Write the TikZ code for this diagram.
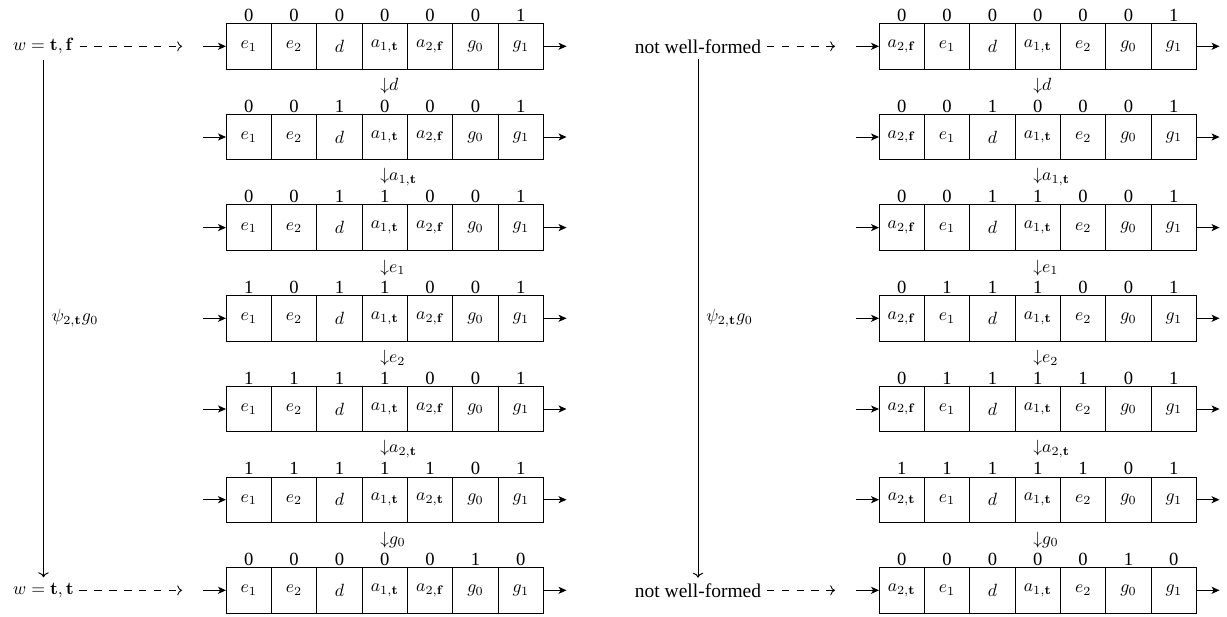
\documentclass[tikz,border=0pt]{standalone}
\usepackage[no-math]{fontspec}
\setmainfont{Liberation Serif}
\usetikzlibrary{arrows.meta,calc}
\tikzset{
  cellbox/.style={draw, line width=0.55pt, minimum width=0.9cm, minimum height=0.9cm, inner sep=0pt, outer sep=0pt},
  bitlbl/.style={inner sep=0pt, font=\fontsize{10.5}{12}\selectfont},
  flow/.style={-{Stealth[length=4.5pt,width=4pt,inset=1.2pt]}, line width=0.55pt},
  dasharrow/.style={->, dash pattern=on 4.2pt off 4.2pt, line width=0.5pt},
  vline/.style={->, line width=0.55pt},
  sidelbl/.style={inner sep=3pt},
  textlbl/.style={inner sep=3pt, font=\fontsize{11}{13}\selectfont},
  steplbl/.style={inner sep=0pt},
  psilbl/.style={inner sep=0pt, anchor=west},
}
\newcommand\stepdown[1]{$\mathord{\downarrow}\rlap{$#1$}$}
% #1 prefix, #2 left x, #3 centre y, #4 cell/bit list
\newcommand\tmrow[4]{%
  \foreach \cc/\bb [count=\kk from 0] in {#4} {
    \node[cellbox] (#1c\kk) at ({#2+45.36*(\kk+0.5)}, #3) {$\cc$};
    \node[bitlbl] (#1b\kk) at ({#2+45.36*(\kk+0.5)}, #3-31) {\bb};
  }
  \coordinate (#1in) at (#2-23, #3);
  \draw[flow] (#1in) -- (#1c0.west);
  \coordinate (#1out) at ({#2+45.36*7+23}, #3);
  \draw[flow] (#1c6.east) -- (#1out);
}
\begin{document}
\begin{tikzpicture}[x=0.019841cm, y=-0.019841cm]
\useasboundingbox (0,0) rectangle (1227,616);

% ---------------- left column ----------------
\tmrow{La}{226}{46.3}{e_1/0,e_2/0,d/0,a_{1,\mathbf{t}}/0,a_{2,\mathbf{f}}/0,g_0/0,g_1/1}
\tmrow{Lb}{226}{137.0}{e_1/0,e_2/0,d/1,a_{1,\mathbf{t}}/0,a_{2,\mathbf{f}}/0,g_0/0,g_1/1}
\tmrow{Lc}{226}{227.6}{e_1/0,e_2/0,d/1,a_{1,\mathbf{t}}/1,a_{2,\mathbf{f}}/0,g_0/0,g_1/1}
\tmrow{Ld}{226}{318.3}{e_1/1,e_2/0,d/1,a_{1,\mathbf{t}}/1,a_{2,\mathbf{f}}/0,g_0/0,g_1/1}
\tmrow{Le}{226}{409.0}{e_1/1,e_2/1,d/1,a_{1,\mathbf{t}}/1,a_{2,\mathbf{f}}/0,g_0/0,g_1/1}
\tmrow{Lf}{226}{499.7}{e_1/1,e_2/1,d/1,a_{1,\mathbf{t}}/1,a_{2,\mathbf{t}}/1,g_0/0,g_1/1}
\tmrow{Lg}{226}{590.3}{e_1/0,e_2/0,d/0,a_{1,\mathbf{t}}/0,a_{2,\mathbf{f}}/0,g_0/1,g_1/0}

\node[steplbl] (Ls1) at (384.8, 86.3) {\stepdown{d}};
\node[steplbl] (Ls2) at (384.8, 177.0) {\stepdown{a_{1,\mathbf{t}}}};
\node[steplbl] (Ls3) at (384.8, 267.6) {\stepdown{e_1}};
\node[steplbl] (Ls4) at (384.8, 358.3) {\stepdown{e_2}};
\node[steplbl] (Ls5) at (384.8, 449.0) {\stepdown{a_{2,\mathbf{t}}}};
\node[steplbl] (Ls6) at (384.8, 539.7) {\stepdown{g_0}};

\node[sidelbl] (Lw1) at (43.5, 46.3) {$w=\mathbf{t},\mathbf{f}$};
\node[sidelbl] (Lw7) at (43.5, 590.3) {$w=\mathbf{t},\mathbf{t}$};
\coordinate (Ld1) at ($(Lain)+(-21,0)$);
\coordinate (Ld7) at ($(Lgin)+(-21,0)$);
\draw[dasharrow] (Lw1.east) -- (Ld1);
\draw[dasharrow] (Lw7.east) -- (Ld7);
\draw[vline] (Lw1) -- (Lw7);
\node[psilbl] (Lpsi) at (51.5, 318.3) {$\psi_{2,\mathbf{t}}g_0$};

% ---------------- right column ----------------
\tmrow{Ra}{879}{46.3}{a_{2,\mathbf{f}}/0,e_1/0,d/0,a_{1,\mathbf{t}}/0,e_2/0,g_0/0,g_1/1}
\tmrow{Rb}{879}{137.0}{a_{2,\mathbf{f}}/0,e_1/0,d/1,a_{1,\mathbf{t}}/0,e_2/0,g_0/0,g_1/1}
\tmrow{Rc}{879}{227.6}{a_{2,\mathbf{f}}/0,e_1/0,d/1,a_{1,\mathbf{t}}/1,e_2/0,g_0/0,g_1/1}
\tmrow{Rd}{879}{318.3}{a_{2,\mathbf{f}}/0,e_1/1,d/1,a_{1,\mathbf{t}}/1,e_2/0,g_0/0,g_1/1}
\tmrow{Re}{879}{409.0}{a_{2,\mathbf{f}}/0,e_1/1,d/1,a_{1,\mathbf{t}}/1,e_2/1,g_0/0,g_1/1}
\tmrow{Rf}{879}{499.7}{a_{2,\mathbf{t}}/1,e_1/1,d/1,a_{1,\mathbf{t}}/1,e_2/1,g_0/0,g_1/1}
\tmrow{Rg}{879}{590.3}{a_{2,\mathbf{t}}/0,e_1/0,d/0,a_{1,\mathbf{t}}/0,e_2/0,g_0/1,g_1/0}

\node[steplbl] (Rs1) at (1037.8, 86.3) {\stepdown{d}};
\node[steplbl] (Rs2) at (1037.8, 177.0) {\stepdown{a_{1,\mathbf{t}}}};
\node[steplbl] (Rs3) at (1037.8, 267.6) {\stepdown{e_1}};
\node[steplbl] (Rs4) at (1037.8, 358.3) {\stepdown{e_2}};
\node[steplbl] (Rs5) at (1037.8, 449.0) {\stepdown{a_{2,\mathbf{t}}}};
\node[steplbl] (Rs6) at (1037.8, 539.7) {\stepdown{g_0}};

\node[textlbl] (Rw1) at (698, 46.3) {not well-formed};
\node[textlbl] (Rw7) at (698, 590.3) {not well-formed};
\coordinate (Rd1) at ($(Rain)+(-21,0)$);
\coordinate (Rd7) at ($(Rgin)+(-21,0)$);
\draw[dasharrow] (Rw1.east) -- (Rd1);
\draw[dasharrow] (Rw7.east) -- (Rd7);
\draw[vline] (Rw1) -- (Rw7);
\node[psilbl] (Rpsi) at (706, 318.3) {$\psi_{2,\mathbf{t}}g_0$};
\end{tikzpicture}
\end{document}
